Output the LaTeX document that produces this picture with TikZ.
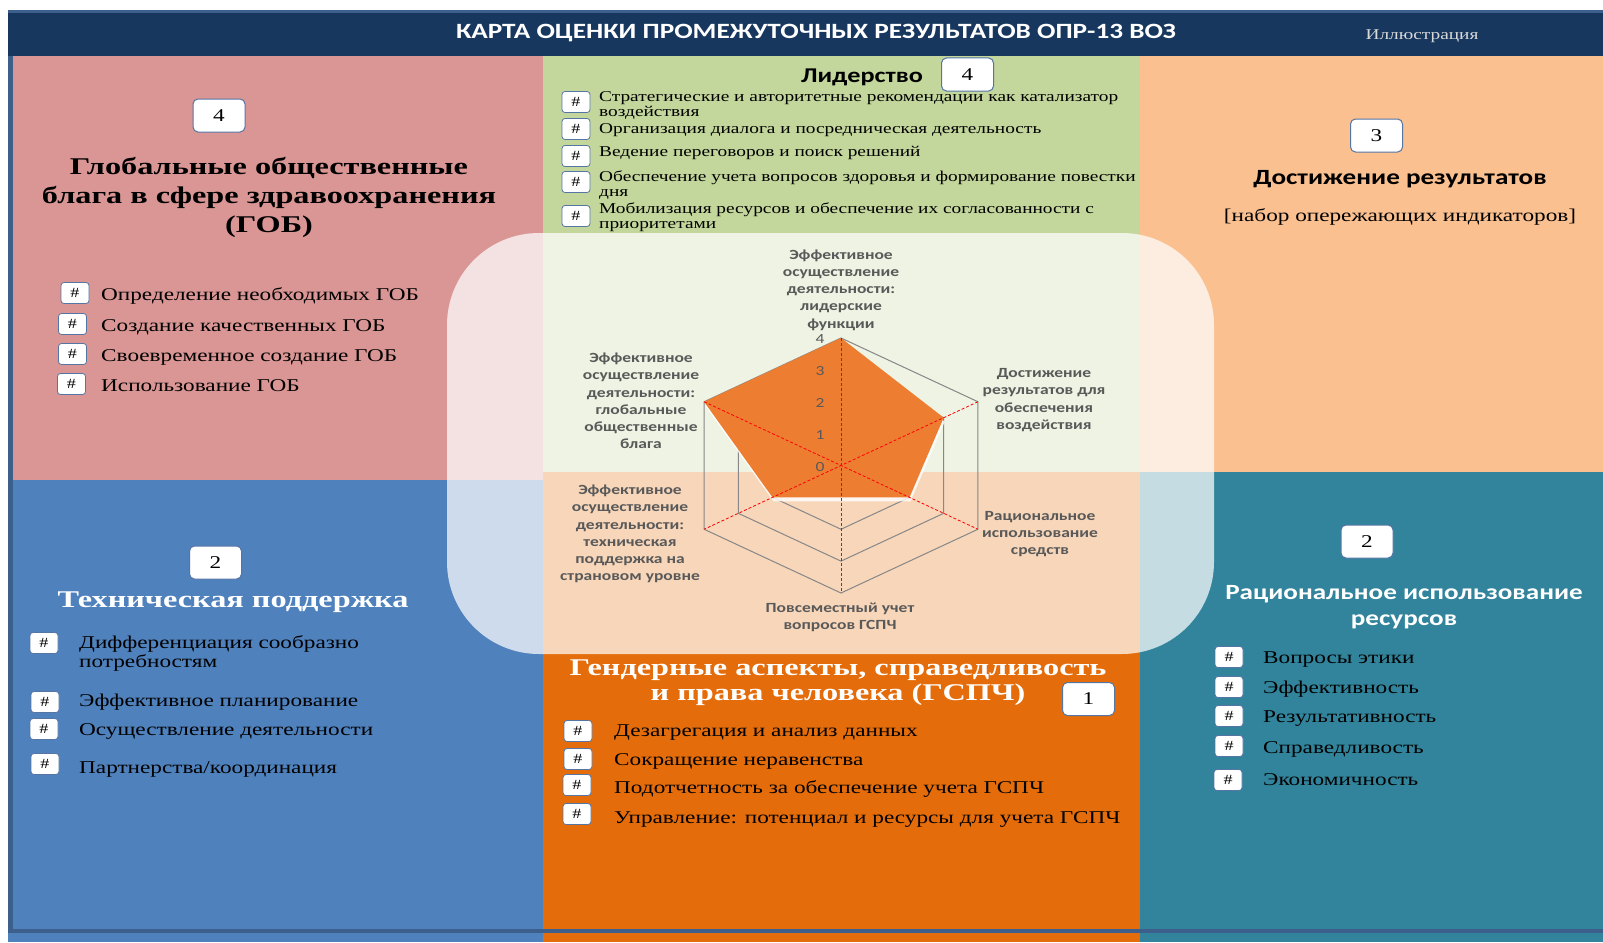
\documentclass[tikz,border=0pt]{standalone}
\usepackage{fontspec}
\setmainfont{Liberation Serif}[FakeStretch=1.29, BoldFeatures={FakeStretch=1.345}]
\newfontfamily\sansfnt{Carlito}[FakeStretch=1.25]
\usetikzlibrary{calc}
\definecolor{pinkq}{HTML}{D99694}
\definecolor{greenq}{HTML}{C3D69B}
\definecolor{peachq}{HTML}{FAC090}
\definecolor{blueq}{HTML}{4F81BD}
\definecolor{orangeq}{HTML}{E46C0A}
\definecolor{tealq}{HTML}{31849B}
\definecolor{titlebg}{HTML}{17375E}
\definecolor{frameln}{HTML}{3C5F8C}
\definecolor{boxline}{HTML}{5575A5}
\definecolor{axisgray}{HTML}{595959}
\definecolor{gridc}{HTML}{878787}
\definecolor{radarfill}{HTML}{ED7D31}
\tikzset{
  numbox/.style={draw=boxline, fill=white, rounded corners=5pt, minimum width=52pt, minimum height=33pt, inner sep=0pt, line width=1pt, font=\fontsize{18}{18}\selectfont},
  hbox/.style={draw=boxline, fill=white, rounded corners=3pt, minimum width=28pt, minimum height=21pt, inner sep=0pt, line width=0.8pt, font=\fontsize{14}{14}\selectfont},
  txt/.style={inner sep=0pt, yshift=-2pt},
  item/.style={txt, anchor=west, align=left, font=\fontsize{18}{19.5}\selectfont},
  litem/.style={txt, anchor=west, align=left, font=\fontsize{15}{15}\selectfont},
  serifhead/.style={txt, align=center, font=\bfseries\fontsize{24}{29}\selectfont},
  sanshead/.style={txt, align=center, font=\sansfnt\bfseries\fontsize{21.7}{26}\selectfont},
  rlabel/.style={txt, align=center, text=axisgray, font=\sansfnt\bfseries\fontsize{14}{17.3}\selectfont},
  numlab/.style={txt, text=axisgray, font=\sansfnt\fontsize{14}{14}\selectfont},
}
\begin{document}
\begin{tikzpicture}[x=1pt,y=-1pt]
\useasboundingbox (0,0) rectangle (1603,942);
\fill[white] (0,0) rectangle (1603,942);
% quadrants
\fill[pinkq] (8,56) rectangle (543,480);
\fill[greenq] (543,56) rectangle (1140,472);
\fill[peachq] (1140,56) rectangle (1603,472);
\fill[blueq] (8,480) rectangle (543,942);
\fill[orangeq] (543,472) rectangle (1140,942);
\fill[tealq] (1140,472) rectangle (1603,942);
% title bar and frame
\fill[titlebg] (8,10) rectangle (1603,56);
\fill[frameln] (8,10) rectangle (1603,13);
\fill[frameln] (8,56) rectangle (13,933);
\fill[frameln] (8,929) rectangle (1603,933);
\node[txt, text=white, font=\sansfnt\bfseries\fontsize{21.8}{21.8}\selectfont] (title) at (816,31) {КАРТА ОЦЕНКИ ПРОМЕЖУТОЧНЫХ РЕЗУЛЬТАТОВ ОПР-13 ВОЗ};
\node[txt, text=black!15, font=\fontsize{15}{15}\selectfont] (illus) at (1422,34) {Иллюстрация};

% top-left: GOB
\node[numbox] (n4a) at (219,115.5) {4};
\node[serifhead] (gobh) at (269,195) {Глобальные общественные\\блага в сфере здравоохранения\\(ГОБ)};
\node[hbox] (g1) at (75,293) {\#};
\node[hbox] (g2) at (72.5,324) {\#};
\node[hbox] (g3) at (72.5,354) {\#};
\node[hbox] (g4) at (71.5,384) {\#};
\node[item] (gt1) at (101,294) {Определение необходимых ГОБ};
\node[item] (gt2) at (101,325) {Создание качественных ГОБ};
\node[item] (gt3) at (101,355) {Своевременное создание ГОБ};
\node[item] (gt4) at (101,384) {Использование ГОБ};

% top-center: leadership
\node[txt, font=\sansfnt\bfseries\fontsize{21}{21}\selectfont] (lidh) at (862,75) {Лидерство};
\node[numbox] (n4b) at (967.5,74.5) {4};
\node[hbox] (l1) at (576,102) {\#};
\node[hbox] (l2) at (576,129) {\#};
\node[hbox] (l3) at (576,156) {\#};
\node[hbox] (l4) at (576,182) {\#};
\node[hbox] (l5) at (576,216) {\#};
\node[litem] (lt1) at (599,103.5) {Стратегические и авторитетные рекомендации как катализатор\\воздействия};
\node[litem] (lt2) at (599,128) {Организация диалога и посредническая деятельность};
\node[litem] (lt3) at (599,151) {Ведение переговоров и поиск решений};
\node[litem] (lt4) at (599,183.5) {Обеспечение учета вопросов здоровья и формирование повестки\\дня};
\node[litem] (lt5) at (599,215.5) {Мобилизация ресурсов и обеспечение их согласованности с\\приоритетами};

% top-right
\node[numbox] (n3) at (1376.5,135.5) {3};
\node[sanshead] (dosth) at (1400,177) {Достижение результатов};
\node[txt, font=\fontsize{18}{18}\selectfont] (nabor) at (1400,215) {[набор опережающих индикаторов]};

% bottom-left
\node[numbox] (n2a) at (215.5,562.5) {2};
\node[serifhead, text=white] (tech) at (233,600) {Техническая поддержка};
\node[hbox] (t1) at (44,643) {\#};
\node[hbox] (t2) at (45,702) {\#};
\node[hbox] (t3) at (44,729) {\#};
\node[hbox] (t4) at (45,764) {\#};
\node[item] (tt1) at (79,651.5) {Дифференциация сообразно\\потребностям};
\node[item] (tt2) at (79,700) {Эффективное планирование};
\node[item] (tt3) at (79,729) {Осуществление деятельности};
\node[item] (tt4) at (79,767) {Партнерства/координация};

% bottom-center
\node[serifhead, text=white, font=\bfseries\fontsize{24}{25}\selectfont] (gend) at (838,680.5) {Гендерные аспекты, справедливость\\и права человека (ГСПЧ)};
\node[numbox] (n1) at (1088.5,699) {1};
\node[hbox] (o1) at (578,731) {\#};
\node[hbox] (o2) at (578,759) {\#};
\node[hbox] (o3) at (577,785) {\#};
\node[hbox] (o4) at (577,814) {\#};
\node[item] (ot1) at (614,731) {Дезагрегация и анализ данных};
\node[item] (ot2) at (614,759) {Сокращение неравенства};
\node[item] (ot3) at (614,787) {Подотчетность за обеспечение учета ГСПЧ};
\node[item] (ot4) at (614,817) {Управление: потенциал и ресурсы для учета ГСПЧ};

% bottom-right
\node[numbox] (n2b) at (1367,541.5) {2};
\node[sanshead, text=white] (ratz) at (1404,605) {Рациональное использование\\ресурсов};
\node[hbox] (r1) at (1229,657) {\#};
\node[hbox] (r2) at (1229,687) {\#};
\node[hbox] (r3) at (1229,716) {\#};
\node[hbox] (r4) at (1229,746) {\#};
\node[hbox] (r5) at (1228,780) {\#};
\node[item] (rt1) at (1263,658) {Вопросы этики};
\node[item] (rt2) at (1263,687) {Эффективность};
\node[item] (rt3) at (1263,717) {Результативность};
\node[item] (rt4) at (1263,747) {Справедливость};
\node[item] (rt5) at (1263,778) {Экономичность};

% translucent overlay
\fill[white, opacity=0.72, rounded corners=92pt] (447,233) rectangle (1214,654);

% radar chart
\begin{scope}[shift={(841,465.5)}, x={(39.53pt,0pt)}, y={(0pt,31.875pt)}]
  \foreach \r in {1,2,3,4}
    \draw[gridc, line width=1pt] (90:\r) -- (30:\r) -- (-30:\r) -- (-90:\r) -- (-150:\r) -- (150:\r) -- cycle;
  \fill[white, opacity=0.8, xshift=1pt, yshift=-4pt] (90:4) -- (30:3) -- (-30:2) -- (-90:1) -- (-150:2) -- (150:4) -- cycle;
  \fill[radarfill] (90:4) -- (30:3) -- (-30:2) -- (-90:1) -- (-150:2) -- (150:4) -- cycle;
  \foreach \a in {90,30,150}
    \draw[red, line width=0.8pt, dash pattern=on 3pt off 2pt] (\a:4) -- (\a+180:4);
  \foreach \v in {0,1,2,3,4}
    \node[numlab] (tick\v) at (-0.53,\v+0.03) {\v};
\end{scope}
\node[rlabel] (ax1) at (841,288) {Эффективное\\осуществление\\деятельности:\\лидерские\\функции};
\node[rlabel] (ax2) at (1044,398) {Достижение\\результатов для\\обеспечения\\воздействия};
\node[rlabel] (ax3) at (1040,532) {Рациональное\\использование\\средств};
\node[rlabel] (ax4) at (840,615.5) {Повсеместный учет\\вопросов ГСПЧ};
\node[rlabel] (ax5) at (630,532) {Эффективное\\осуществление\\деятельности:\\техническая\\поддержка на\\страновом уровне};
\node[rlabel] (ax6) at (641,399) {Эффективное\\осуществление\\деятельности:\\глобальные\\общественные\\блага};
\end{tikzpicture}
\end{document}
